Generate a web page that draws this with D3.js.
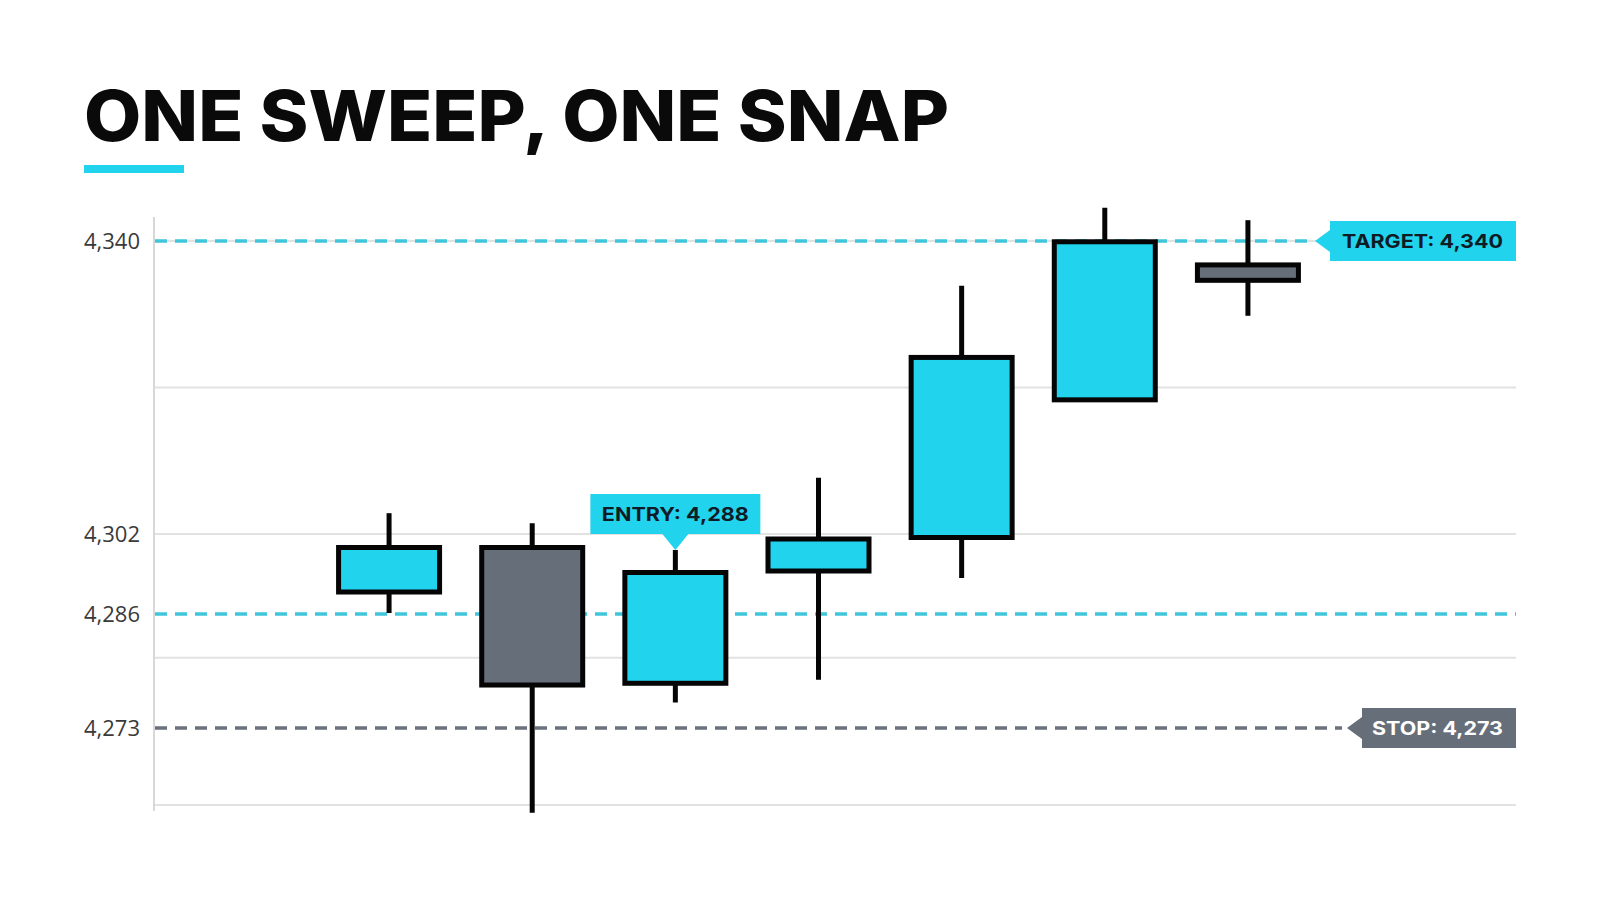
<!DOCTYPE html>
<html>
<head>
<meta charset="utf-8">
<script src="https://cdn.jsdelivr.net/npm/d3@7/dist/d3.min.js"></script>
<style>
  html, body { margin: 0; padding: 0; background: #ffffff; }
  svg { display: block; }
</style>
</head>
<body>
<svg id="chart" width="1600" height="914"></svg>
<script>
// ---- data ----
const titleText = "ONE SWEEP, ONE SNAP";
const categories = ["C1", "C2", "C3", "C4", "C5", "C6", "C7"];
const openVals  = [4290.4, 4299.3, 4278.1, 4294.6, 4301.3, 4319.4, 4336.9];
const highVals  = [4304.7, 4303.4, 4298.8, 4309.3, 4334.2, 4344.3, 4342.7];
const lowVals   = [4286.2, 4263.1, 4275.9, 4278.5, 4293.2, 4319.4, 4330.3];
const closeVals = [4299.3, 4277.9, 4294.3, 4301.0, 4324.9, 4339.9, 4334.9];
const tickValues = [4273, 4286, 4302, 4340];
const gridValues = [4264, 4281, 4302, 4321, 4340];
// axis anchor levels (the reference axis is not evenly spaced)
const scaleLevels = [4264, 4273, 4286, 4302, 4340];
const targetLevel = 4340;
const entryLevel = 4286;
const entryPrice = 4288;
const stopLevel = 4273;
const entryCandle = "C3";

// ---- styling ----
const W = 1600, H = 914;
const plotLeft = 154, plotRight = 1516;
const CYAN = "#22d3ee", CYAN_LINE = "#3fc6da", GREY = "#666e79", INK = "#050505", DARK = "#0f1c26";

const svg = d3.select("#chart");
svg.append("rect").attr("width", W).attr("height", H).attr("fill", "#fff");

const y = d3.scaleLinear()
  .domain(scaleLevels)
  .range([805, 728, 614, 534, 241]);

const x = d3.scaleBand()
  .domain(categories)
  .range([317.5, 1319.5]);

const candles = categories.map((c, i) => ({
  cat: c, open: openVals[i], high: highVals[i], low: lowVals[i], close: closeVals[i]
}));

// Title
svg.append("text")
  .attr("x", 84).attr("y", 141)
  .attr("font-family", "Inter, 'Open Sans', sans-serif")
  .attr("font-weight", 800)
  .attr("font-size", 70)
  .attr("fill", "#0a0a0a")
  .attr("textLength", 865)
  .attr("lengthAdjust", "spacingAndGlyphs")
  .text(titleText);
svg.append("rect").attr("x", 84).attr("y", 165).attr("width", 100).attr("height", 8).attr("fill", CYAN);

// gridlines
svg.append("g").selectAll("line").data(gridValues).join("line")
  .attr("x1", plotLeft).attr("x2", plotRight)
  .attr("y1", d => y(d)).attr("y2", d => y(d))
  .attr("stroke", "#e2e2e2").attr("stroke-width", 2);

// vertical axis line
svg.append("line")
  .attr("x1", plotLeft).attr("x2", plotLeft)
  .attr("y1", 217).attr("y2", 811)
  .attr("stroke", "#d8d8d8").attr("stroke-width", 2);

// y axis labels
const yAxis = d3.axisLeft(y).tickValues(tickValues).tickSize(0).tickPadding(14).tickFormat(d3.format(","));
const ag = svg.append("g").attr("transform", `translate(${plotLeft},0)`).call(yAxis);
ag.select(".domain").remove();
ag.selectAll("text")
  .attr("font-family", "'Open Sans', sans-serif")
  .attr("font-size", 22)
  .attr("fill", "#3a3a3a")
  .attr("dy", "0.35em");

// reference lines
function dashLine(v, x2, color) {
  svg.append("line")
    .attr("x1", plotLeft + 1).attr("x2", x2)
    .attr("y1", y(v)).attr("y2", y(v))
    .attr("stroke", color).attr("stroke-width", 3.5)
    .attr("stroke-dasharray", "12,8");
}
dashLine(targetLevel, 1310, CYAN_LINE);
dashLine(entryLevel, plotRight, CYAN_LINE);
dashLine(stopLevel, 1342, "#6b727c");

// candles: wicks
const cx = d => x(d.cat) + x.bandwidth() / 2;
const bodyW = 101;
svg.append("g").selectAll("line").data(candles).join("line")
  .attr("x1", cx).attr("x2", cx)
  .attr("y1", d => y(d.high)).attr("y2", d => y(d.low))
  .attr("stroke", INK).attr("stroke-width", 5);
// bodies
svg.append("g").selectAll("rect").data(candles).join("rect")
  .attr("x", d => cx(d) - bodyW / 2)
  .attr("width", bodyW)
  .attr("y", d => y(Math.max(d.open, d.close)))
  .attr("height", d => y(Math.min(d.open, d.close)) - y(Math.max(d.open, d.close)))
  .attr("fill", d => d.close >= d.open ? CYAN : GREY)
  .attr("stroke", INK).attr("stroke-width", 5);

// right side tags
function sideTag(v, tipX, fill, textFill, label, textW) {
  const yc = y(v), h = 40, base = tipX + 15, right = plotRight;
  const g = svg.append("g");
  g.append("path")
    .attr("d", `M${tipX},${yc} L${base},${yc - 11} L${base},${yc - h / 2} L${right},${yc - h / 2} L${right},${yc + h / 2} L${base},${yc + h / 2} L${base},${yc + 11} Z`)
    .attr("fill", fill);
  g.append("text")
    .attr("x", right - 13 - textW).attr("y", yc + 7)
    .attr("font-family", "Inter, 'Open Sans', sans-serif")
    .attr("font-weight", 700).attr("font-size", 19)
    .attr("fill", textFill)
    .attr("textLength", textW).attr("lengthAdjust", "spacingAndGlyphs")
    .text(label);
}
sideTag(targetLevel, 1315, CYAN, DARK, "TARGET: " + d3.format(",")(targetLevel), 161);
sideTag(stopLevel, 1347, GREY, "#ffffff", "STOP: " + d3.format(",")(stopLevel), 131);

// entry callout above candle
(function () {
  const c = candles.find(d => d.cat === entryCandle);
  const tx = cx(c), ty = y(c.high);
  const bw = 170, bh = 40, ph = 16, pw = 13;
  const bottom = ty - ph, top = bottom - bh;
  svg.append("path")
    .attr("d", `M${tx - bw / 2},${top} L${tx + bw / 2},${top} L${tx + bw / 2},${bottom} L${tx + pw},${bottom} L${tx},${ty} L${tx - pw},${bottom} L${tx - bw / 2},${bottom} Z`)
    .attr("fill", CYAN);
  svg.append("text")
    .attr("x", tx).attr("y", top + bh / 2 + 7)
    .attr("text-anchor", "middle")
    .attr("font-family", "Inter, 'Open Sans', sans-serif")
    .attr("font-weight", 700).attr("font-size", 19)
    .attr("fill", DARK)
    .attr("textLength", 147).attr("lengthAdjust", "spacingAndGlyphs")
    .text("ENTRY: " + d3.format(",")(entryPrice));
})();
</script>
</body>
</html>
